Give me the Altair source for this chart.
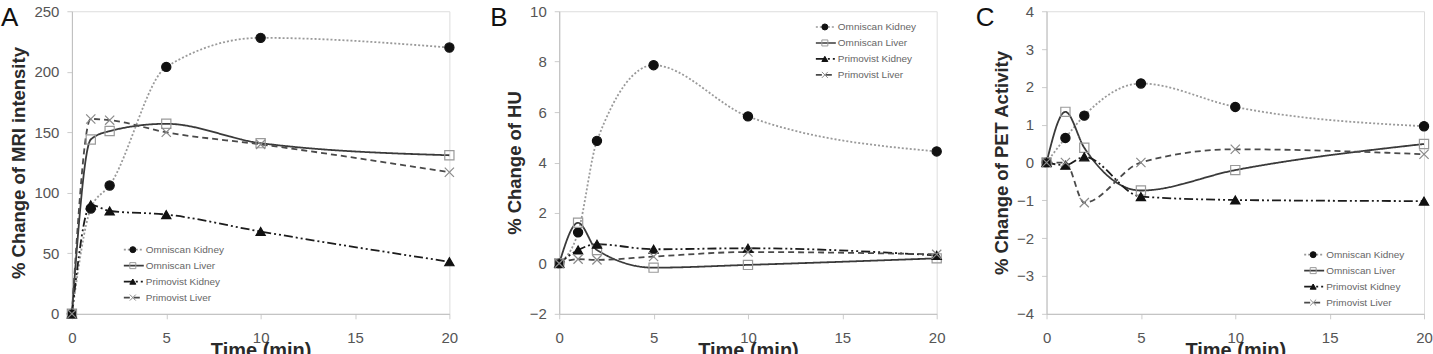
import altair as alt
import pandas as pd

TIME = [0, 1, 2, 5, 10, 20]
SERIES = ["Omniscan Kidney", "Omniscan Liver", "Primovist Kidney", "Primovist Liver"]

# Panel A: % change of MRI intensity
MRI_OMNI_KIDNEY = [0, 87, 106, 204, 228, 220]
MRI_OMNI_LIVER = [0, 144, 151, 157, 141, 131]
MRI_PRIM_KIDNEY = [0, 90, 85, 82, 68, 43]
MRI_PRIM_LIVER = [0, 161, 160, 150, 140, 117]

# Panel B: % change of HU
HU_OMNI_KIDNEY = [0, 1.23, 4.86, 7.86, 5.83, 4.44]
HU_OMNI_LIVER = [0, 1.61, 0.53, -0.17, -0.06, 0.2]
HU_PRIM_KIDNEY = [0, 0.53, 0.76, 0.56, 0.6, 0.32]
HU_PRIM_LIVER = [0, 0.17, 0.14, 0.27, 0.45, 0.36]

# Panel C: % change of PET activity
PET_OMNI_KIDNEY = [0, 0.65, 1.24, 2.09, 1.47, 0.96]
PET_OMNI_LIVER = [0, 1.34, 0.39, -0.74, -0.2, 0.49]
PET_PRIM_KIDNEY = [0, -0.07, 0.15, -0.9, -0.99, -1.02]
PET_PRIM_LIVER = [0, 0.0, -1.06, 0.0, 0.35, 0.22]

X_TICKS = [0, 5, 10, 15, 20]
A_TICKS = [0, 50, 100, 150, 200, 250]
B_TICKS = [-2, 0, 2, 4, 6, 8, 10]
C_TICKS = [-4, -3, -2, -1, 0, 1, 2, 3, 4]

# styles (alphabetical series order)
LINE_COLORS = ["#9a9a9a", "#3a3a3a", "#1c1c1c", "#4a4a4a"]
LINE_DASHES = [[2, 2], [1, 0], [9, 3, 2, 3, 2, 3], [6, 4]]
MARKER_SHAPES = ["circle", "square", "triangle-up", "M-1,-1L1,1M1,-1L-1,1"]
MARKER_FILLS = ["#111111", "transparent", "#111111", "transparent"]
MARKER_STROKES = ["#111111", "#9a9a9a", "#111111", "#8a8a8a"]

FONT = "Liberation Sans"
W = 378
H = 303


def panel(values, letter, letter_dx, ytitle, ydom, yticks, lx, ly):
    rows = []
    for s, vals in zip(SERIES, values):
        for t, v in zip(TIME, vals):
            rows.append({"time": t, "value": v, "series": s, "marker": s})
    df = pd.DataFrame(rows)

    base = alt.Chart(df).encode(
        x=alt.X("time:Q", scale=alt.Scale(domain=[0, 20], nice=False),
                axis=alt.Axis(values=X_TICKS, title="Time (min)", format="d",
                              labelFlush=False)),
        y=alt.Y("value:Q", scale=alt.Scale(domain=ydom, nice=False),
                axis=alt.Axis(values=yticks, title=ytitle, format="d")),
    )

    line_leg = dict(orient="none", legendX=lx, legendY=ly, title=None,
                    symbolSize=400, symbolStrokeWidth=1.6, labelFontSize=10,
                    labelColor="#666666", labelFont=FONT, clipHeight=15.5,
                    rowPadding=0, labelOffset=1, padding=0, symbolType="stroke")
    mark_leg = dict(orient="none", legendX=lx + 5, legendY=ly, title=None,
                    symbolSize=36, symbolStrokeWidth=1, labelFontSize=10,
                    labelOpacity=0, labelFont=FONT, clipHeight=15.5,
                    rowPadding=0, labelOffset=1, padding=0)

    lines = base.mark_line(interpolate="monotone", strokeWidth=1.8).encode(
        color=alt.Color("series:N", scale=alt.Scale(range=LINE_COLORS),
                        legend=alt.Legend(**line_leg)),
        strokeDash=alt.StrokeDash("series:N", scale=alt.Scale(range=LINE_DASHES),
                                  legend=alt.Legend(**line_leg)),
    )
    points = base.mark_point(opacity=1, strokeWidth=1.2, size=85).encode(
        shape=alt.Shape("marker:N", scale=alt.Scale(range=MARKER_SHAPES),
                        legend=alt.Legend(**mark_leg)),
        fill=alt.Fill("marker:N", scale=alt.Scale(range=MARKER_FILLS),
                      legend=alt.Legend(**mark_leg)),
        stroke=alt.Stroke("marker:N", scale=alt.Scale(range=MARKER_STROKES),
                          legend=alt.Legend(**mark_leg)),
    )
    return alt.layer(lines, points).properties(
        width=W, height=H,
        title=alt.TitleParams(letter, anchor="start", frame="group", orient="top",
                              fontSize=26, fontWeight="normal", font=FONT,
                              color="#111111", baseline="top", dx=letter_dx,
                              offset=-27),
    )


pA = panel([MRI_OMNI_KIDNEY, MRI_OMNI_LIVER, MRI_PRIM_KIDNEY, MRI_PRIM_LIVER],
           "A", -71, "% Change of MRI intensity", [0, 250], A_TICKS, 51, 231)
pB = panel([HU_OMNI_KIDNEY, HU_OMNI_LIVER, HU_PRIM_KIDNEY, HU_PRIM_LIVER],
           "B", -69, "% Change of HU", [-2, 10], B_TICKS, 256, 8)
pC = panel([PET_OMNI_KIDNEY, PET_OMNI_LIVER, PET_PRIM_KIDNEY, PET_PRIM_LIVER],
           "C", -71, "% Change of PET Activity", [-4, 4], C_TICKS, 257, 236)

chart = alt.hconcat(pA, pB, pC, spacing=110, bounds="flush").resolve_scale(
    color="independent", strokeDash="independent", shape="independent",
    fill="independent", stroke="independent",
).properties(
    padding={"left": 0, "top": 3, "right": 0, "bottom": 0},
    background="white",
).configure_view(
    stroke="#dddddd", strokeWidth=1,
).configure_axis(
    grid=False, domainColor="#bdbdbd", tickColor="#cccccc", tickSize=5,
    labelFont=FONT, labelFontSize=15, labelColor="#555555",
    titleFont=FONT, titleFontWeight="bold", titleColor="#2a2a2a",
).configure_axisY(
    labelPadding=8, titlePadding=5, titleFontSize=18.5,
).configure_axisX(
    labelPadding=11.5, titlePadding=-5, titleFontSize=20,
)

chart.save("out.html", embed_options={"renderer": "svg", "actions": False})
